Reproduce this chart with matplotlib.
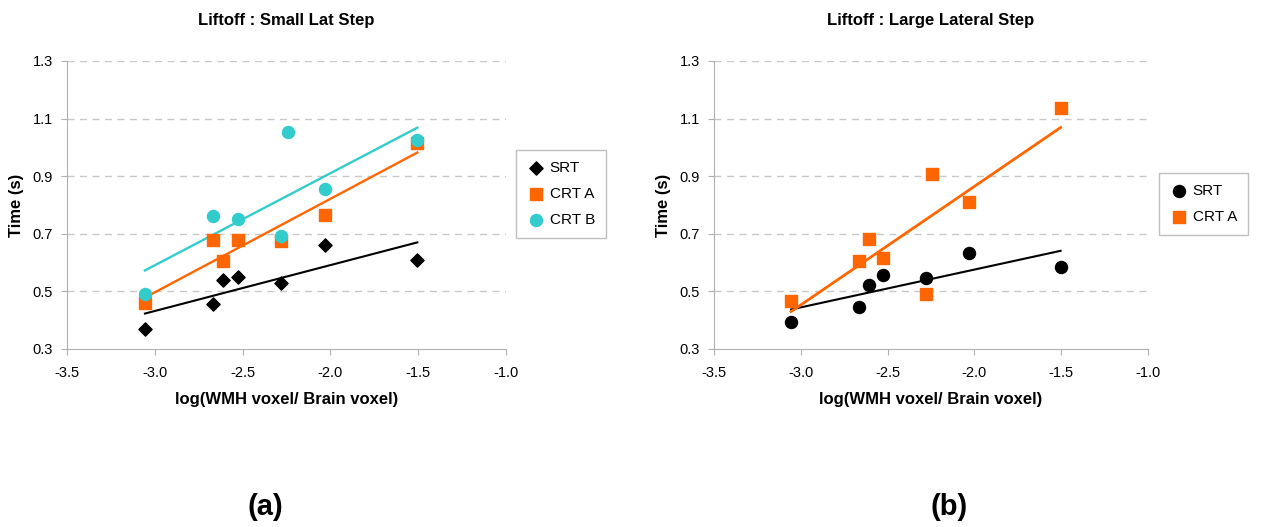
import numpy as np
import matplotlib.pyplot as plt

plt.rcParams['font.family'] = ['Liberation Sans', 'DejaVu Sans']

# panel (a): Small Lat Step
x_srt_a = [-3.056, -2.667, -2.610, -2.526, -2.281, -2.031, -1.505]
y_srt_a = [0.368, 0.456, 0.540, 0.549, 0.528, 0.662, 0.609]
x_crta_a = [-3.056, -2.667, -2.610, -2.526, -2.281, -2.031, -1.505]
y_crta_a = [0.459, 0.678, 0.606, 0.680, 0.676, 0.765, 1.016]
x_crtb_a = [-3.056, -2.667, -2.526, -2.281, -2.240, -2.031, -1.505]
y_crtb_a = [0.492, 0.763, 0.751, 0.691, 1.055, 0.856, 1.026]

# panel (b): Large Lateral Step
x_srt_b = [-3.056, -2.666, -2.608, -2.527, -2.279, -2.030, -1.504]
y_srt_b = [0.394, 0.445, 0.522, 0.558, 0.545, 0.632, 0.584]
x_crta_b = [-3.056, -2.666, -2.608, -2.527, -2.279, -2.242, -2.030, -1.504]
y_crta_b = [0.465, 0.606, 0.683, 0.617, 0.492, 0.909, 0.809, 1.138]

xticks = [-3.5, -3.0, -2.5, -2.0, -1.5, -1.0]
yticks = [0.3, 0.5, 0.7, 0.9, 1.1, 1.3]

orange = '#FF6600'
cyan = '#33CCCC'


def trend(ax, x, y, color, lw):
    k, b = np.polyfit(x, y, 1)
    xs = np.array([min(x), max(x)])
    ax.plot(xs, k * xs + b, color=color, lw=lw, zorder=2)


def style(ax, title):
    ax.set_xlim(-3.5, -1.0)
    ax.set_ylim(0.3, 1.3)
    ax.set_xticks(xticks)
    ax.set_xticklabels(['%.1f' % v for v in xticks])
    ax.set_yticks(yticks)
    ax.set_yticklabels(['%.1f' % v for v in yticks])
    for v in yticks[1:]:
        ax.axhline(v, color='#c8c8c8', lw=1, ls=(0, (5, 4)), zorder=0)
    for s in ['top', 'right']:
        ax.spines[s].set_visible(False)
    for s in ['left', 'bottom']:
        ax.spines[s].set_color('#b0b0b0')
    ax.tick_params(colors='#b0b0b0', labelcolor='black', labelsize=10.5, length=4)
    ax.tick_params(axis='x', pad=8)
    ax.tick_params(axis='y', pad=6)
    ax.set_title(title, fontsize=12, fontweight='bold', pad=26)
    ax.set_xlabel('log(WMH voxel/ Brain voxel)', fontsize=12, fontweight='bold', labelpad=9)
    ax.set_ylabel('Time (s)', fontsize=12, fontweight='bold', labelpad=6)


fig = plt.figure(figsize=(12.71, 5.27), dpi=100)
ax1 = fig.add_axes([0.0527, 0.3378, 0.3454, 0.5465])
ax2 = fig.add_axes([0.5618, 0.3378, 0.3415, 0.5465])

ax1.scatter(x_srt_a, y_srt_a, marker='D', s=45, color='black', label='SRT', zorder=3)
ax1.scatter(x_crta_a, y_crta_a, marker='s', s=80, color=orange, label='CRT A', zorder=3)
ax1.scatter(x_crtb_a, y_crtb_a, marker='o', s=75, color=cyan, label='CRT B', zorder=4)
trend(ax1, x_srt_a, y_srt_a, 'black', 1.5)
trend(ax1, x_crta_a, y_crta_a, orange, 1.7)
trend(ax1, x_crtb_a, y_crtb_a, cyan, 1.7)
style(ax1, 'Liftoff : Small Lat Step')
leg1 = ax1.legend(loc='upper left', bbox_to_anchor=(0.406, 0.7154), bbox_transform=fig.transFigure,
                  fancybox=False, edgecolor='#b0b0b0', fontsize=11, handletextpad=0.3,
                  borderpad=0.7, labelspacing=0.8, handlelength=1.2, borderaxespad=0)

ax2.scatter(x_srt_b, y_srt_b, marker='o', s=75, color='black', label='SRT', zorder=3)
ax2.scatter(x_crta_b, y_crta_b, marker='s', s=80, color=orange, label='CRT A', zorder=3)
trend(ax2, x_srt_b, y_srt_b, 'black', 1.5)
trend(ax2, x_crta_b, y_crta_b, orange, 2)
style(ax2, 'Liftoff : Large Lateral Step')
leg2 = ax2.legend(loc='upper left', bbox_to_anchor=(0.912, 0.6717), bbox_transform=fig.transFigure,
                  fancybox=False, edgecolor='#b0b0b0', fontsize=11, handletextpad=0.3,
                  borderpad=0.7, labelspacing=0.8, handlelength=1.2, borderaxespad=0)

fig.text(0.209, 0.022, '(a)', fontsize=21, fontweight='bold', ha='center')
fig.text(0.747, 0.022, '(b)', fontsize=21, fontweight='bold', ha='center')

fig.savefig('out.png', dpi=100)
